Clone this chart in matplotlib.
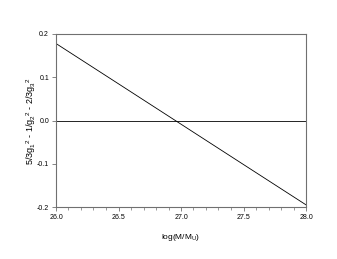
import matplotlib
matplotlib.use("Agg")
import matplotlib.pyplot as plt
from matplotlib.ticker import MultipleLocator

logM = [26.0, 26.5, 27.0, 27.5, 28.0]
diff = [0.178, 0.0848, -0.0085, -0.1018, -0.195]
zero_x = [26.0, 28.0]
zero_y = [0.0, 0.0]

plt.rcParams['font.family'] = ['Liberation Sans', 'DejaVu Sans']
plt.rcParams['mathtext.default'] = 'regular'

fig = plt.figure(figsize=(3.37, 2.59), dpi=100)
ax = fig.add_axes([56/337, 1 - 207/259, (306-56)/337, (207-34)/259])
ax.plot(logM, diff, color='black', lw=0.6)
ax.plot(zero_x, zero_y, color='black', lw=0.6)
ax.set_xlim(26.0, 28.0)
ax.set_ylim(-0.2, 0.2)
ax.xaxis.set_major_locator(MultipleLocator(0.5))
ax.xaxis.set_minor_locator(MultipleLocator(0.1))
ax.yaxis.set_major_locator(MultipleLocator(0.1))
ax.xaxis.set_major_formatter(plt.FuncFormatter(lambda v, p: f"{v:.1f}"))
ax.yaxis.set_major_formatter(plt.FuncFormatter(lambda v, p: f"{v:.1f}"))
for s in ax.spines.values():
    s.set_color('#707070')
    s.set_linewidth(0.8)
ax.tick_params(which='both', direction='out', color='#707070', labelsize=5, pad=2)
ax.tick_params(which='major', length=3, width=0.6)
ax.tick_params(which='minor', length=2, width=0.5)
ax.set_xlabel('log(M/M$_U$)', fontsize=6, labelpad=8)
ax.set_ylabel('5/3g$_1$$^{2}$ - 1/g$_2$$^{2}$ - 2/3g$_3$$^{2}$', fontsize=6.5, labelpad=-1)
fig.savefig('out.png', dpi=100)
